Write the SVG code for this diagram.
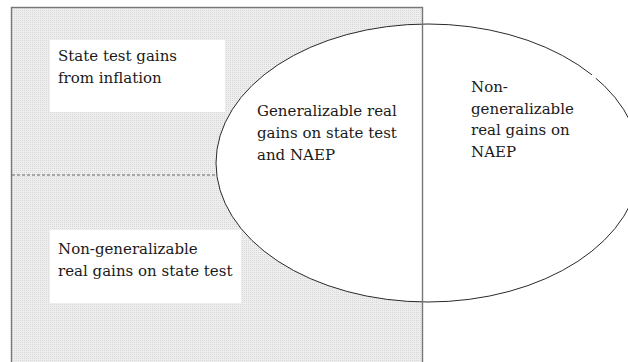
<svg xmlns="http://www.w3.org/2000/svg" width="628" height="362" viewBox="0 0 628 362">
  <defs>
    <!-- fine dotted screen used for the shaded state-test area -->
    <pattern id="dots" width="2" height="2" patternUnits="userSpaceOnUse">
      <rect width="2" height="2" fill="#eeeeee"/>
      <rect width="1" height="1" fill="#d8d8d8"/>
    </pattern>
  </defs>
  <style>
    .box { fill: #ffffff; }
    .lbl { font-family: "DejaVu Serif", serif; font-size: 15px; fill: #1a1a1a; }
  </style>

  <rect width="628" height="362" fill="#ffffff"/>

  <!-- state test region -->
  <g id="state-test">
    <rect x="11.5" y="7.5" width="411" height="360" fill="url(#dots)"/>
  </g>

  <g id="inflation">
    <rect class="box" x="50" y="40" width="175" height="72"/>
    <text class="lbl" x="58" y="61">State test gains</text>
    <text class="lbl" x="58" y="83">from inflation</text>
  </g>

  <g id="nongen-state">
    <rect class="box" x="50" y="230" width="191" height="73"/>
    <text class="lbl" x="58" y="254">Non-generalizable</text>
    <text class="lbl" x="58" y="276">real gains on state test</text>
  </g>

  <!-- NAEP region (outline has a small break on the upper right) -->
  <g id="naep">
    <ellipse cx="428" cy="163" rx="212" ry="139" fill="#ffffff" stroke="#2a2a2a" stroke-width="1"/>
    <line x1="592" y1="74.9" x2="596" y2="78.2" stroke="#ffffff" stroke-width="3"/>
  </g>

  <!-- outline of the state test rectangle and its divider -->
  <g id="connectors">
    <rect x="11.5" y="7.5" width="411" height="360" fill="none" stroke="#777777" stroke-width="1.4"/>
    <line x1="12" y1="175" x2="217" y2="175" stroke="#666666" stroke-width="1" stroke-dasharray="3 2"/>
  </g>

  <g id="generalizable">
    <text class="lbl" x="257" y="116">Generalizable real</text>
    <text class="lbl" x="257" y="138">gains on state test</text>
    <text class="lbl" x="257" y="160">and NAEP</text>
  </g>

  <g id="nongen-naep">
    <text class="lbl" x="471" y="92">Non-</text>
    <text class="lbl" x="471" y="114">generalizable</text>
    <text class="lbl" x="471" y="135">real gains on</text>
    <text class="lbl" x="471" y="157">NAEP</text>
  </g>
</svg>
